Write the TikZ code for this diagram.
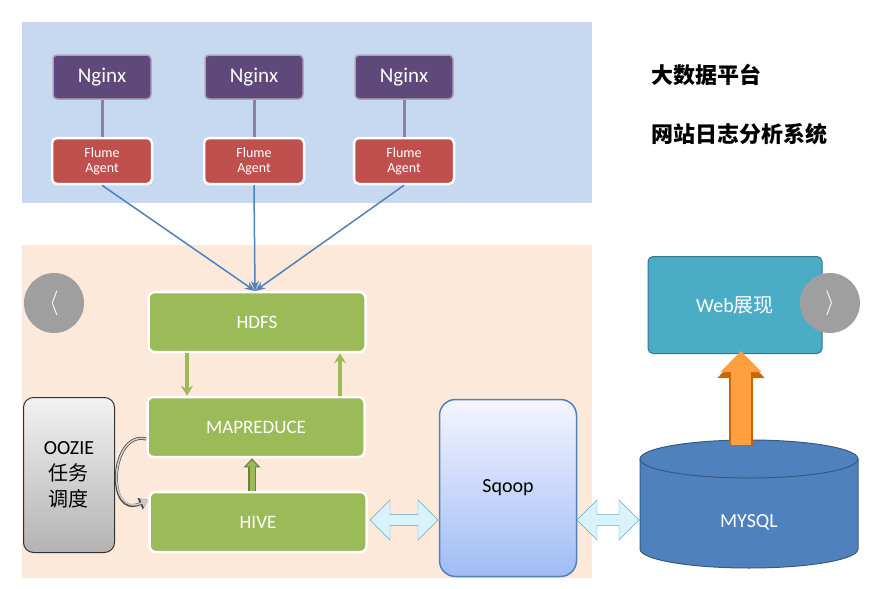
\documentclass[tikz,border=0pt]{standalone}
\usepackage{fontspec}
\setmainfont{Carlito}
\newfontfamily\cjk{Noto Sans CJK SC}
\usetikzlibrary{shapes.geometric,shapes.arrows,arrows.meta}
\definecolor{PanelBlue}{RGB}{198,217,240}
\definecolor{PanelPeach}{RGB}{253,233,217}
\definecolor{NginxPurple}{RGB}{95,73,122}
\definecolor{FlumeRed}{RGB}{192,80,77}
\definecolor{HadoopGreen}{RGB}{155,187,89}
\definecolor{WebTeal}{RGB}{75,172,198}
\definecolor{DbBlue}{RGB}{79,129,189}
\definecolor{LinkBlue}{RGB}{79,129,189}
\definecolor{SqoopLow}{RGB}{160,188,245}
\tikzset{
  nginx/.style={rectangle,rounded corners=4pt,fill=NginxPurple,draw=NginxPurple!50,line width=1.5pt,
    minimum width=98pt,minimum height=44pt,text=white,font=\fontsize{21}{24}\selectfont},
  flume/.style={rectangle,rounded corners=5pt,fill=FlumeRed,draw=white,line width=2.5pt,
    minimum width=100pt,minimum height=46pt,text=white,align=center,font=\fontsize{14}{17}\selectfont},
  hadoop/.style={rectangle,rounded corners=6pt,fill=HadoopGreen,draw=white,line width=2.5pt,
    minimum width=217pt,minimum height=60pt,text=white,font=\fontsize{19}{22}\selectfont},
  xfer/.style={double arrow,double arrow head extend=6pt,fill=cyan!15,draw=cyan!50!gray,
    minimum height=68pt,minimum width=40pt,inner sep=2pt},
  nav/.style={circle,fill=gray!75,minimum size=60pt,text=white,font=\fontsize{30}{30}\selectfont},
  big/.style={font=\fontsize{20}{26}\selectfont},
}
\begin{document}
\begin{tikzpicture}[x=1pt,y=-1pt]
\useasboundingbox (0,0) rectangle (887,589);
\fill[white] (0,0) rectangle (887,589);

% panels
\fill[PanelBlue] (22,22) rectangle (592,203);
\fill[PanelPeach] (22,245) rectangle (592,578);

\foreach \n/\x in {a/102,b/254,c/404}{
  \node[nginx] (ng\n) at (\x,77) {Nginx};
  \node[flume] (fl\n) at (\x,161) {Flume\\[-2pt]Agent};
  \draw[NginxPurple!70,line width=3pt] (ng\n) -- (fl\n);
}

\node[hadoop] (hdfs) at (257,322) {HDFS};
\node[hadoop] (mr) at (256,427) {MAPREDUCE};
\node[hadoop] (hive) at (258,522) {HIVE};

\coordinate (in) at (255,291);
\foreach \n in {a,b,c}
  \draw[LinkBlue,line width=1.5pt,-{Stealth[length=10pt,width=8pt]}] (fl\n.south) -- (in);

\draw[HadoopGreen,line width=3.5pt,-{Stealth[length=10pt,width=12pt]}]
  ([xshift=-70pt]hdfs.south) -- ([xshift=-69pt]mr.north);
\draw[HadoopGreen,line width=3.5pt,-{Stealth[length=10pt,width=12pt]}]
  ([xshift=84pt]mr.north) -- ([xshift=83pt]hdfs.south);
\draw[HadoopGreen!70!black,line width=8pt,-{Triangle[length=9pt,width=16pt]}]
  ([xshift=-6pt]hive.north) -- ([xshift=-4pt]mr.south);
\draw[HadoopGreen,line width=5pt,-{Triangle[length=6pt,width=11pt]}]
  ([xshift=-6pt]hive.north) -- ([xshift=-4pt,yshift=-2pt]mr.south);

\node[rectangle,rounded corners=10pt,draw=black!80,line width=1pt,top color=gray!10,bottom color=gray!60,
  minimum width=91pt,minimum height=155pt,align=center,big] (oozie) at (69,475)
  {OOZIE\\{\cjk 任务}\\{\cjk 调度}};
\draw[black!70,line width=3pt,-{Triangle[length=9pt,width=12pt]}]
  ([yshift=-12pt]mr.west) .. controls (110,430) and (105,520) .. ([yshift=22pt]hive.west);
\draw[gray!40,line width=1.5pt,-{Triangle[length=7pt,width=9pt]}]
  ([yshift=-12pt]mr.west) .. controls (110,430) and (105,520) .. ([yshift=22pt]hive.west);

\node[rectangle,rounded corners=16pt,draw=DbBlue,line width=1.5pt,top color=blue!4,bottom color=SqoopLow,
  minimum width=137pt,minimum height=177pt,big] (sqoop) at (508,488) {Sqoop};

% database
\fill[DbBlue,draw=DbBlue!70!black,line width=1pt] (640,459) -- (640,549) arc[start angle=180,end angle=360,x radius=109,y radius=-19]
  -- (858,459) arc[start angle=0,end angle=180,x radius=109,y radius=-19] -- cycle;
\draw[DbBlue!70!black,line width=1pt] (640,459) arc[start angle=180,end angle=360,x radius=109,y radius=-19];
\node[text=white,big] (mysql) at (749,522) {MYSQL};

\node[rectangle,rounded corners=5pt,fill=WebTeal,draw=WebTeal!70!black,line width=1pt,
  minimum width=174pt,minimum height=97pt,text=white,big] (web) at (735,305) {Web{\cjk 展现}};

\draw[orange!80!black,line width=24pt,-{Triangle[length=24pt,width=46pt]}] (741,446) -- (web.south -| 741,0);
\draw[orange!75,line width=20pt,-{Triangle[length=21pt,width=40pt]}] (741,445) -- ([yshift=3pt]web.south -| 741,0);

\node[xfer] (x1) at (404,520) {};
\node[xfer,minimum height=62pt] (x2) at (608,520) {};

\node[nav] (prev) at (54,303) {$\langle$};
\node[nav] (next) at (830,303) {$\rangle$};

\node[font=\cjk\fontsize{22}{26}\selectfont\bfseries,anchor=west] (t1) at (648,75) {大数据平台};
\node[font=\cjk\fontsize{22}{26}\selectfont\bfseries,anchor=west] (t2) at (648,134) {网站日志分析系统};
\end{tikzpicture}
\end{document}
